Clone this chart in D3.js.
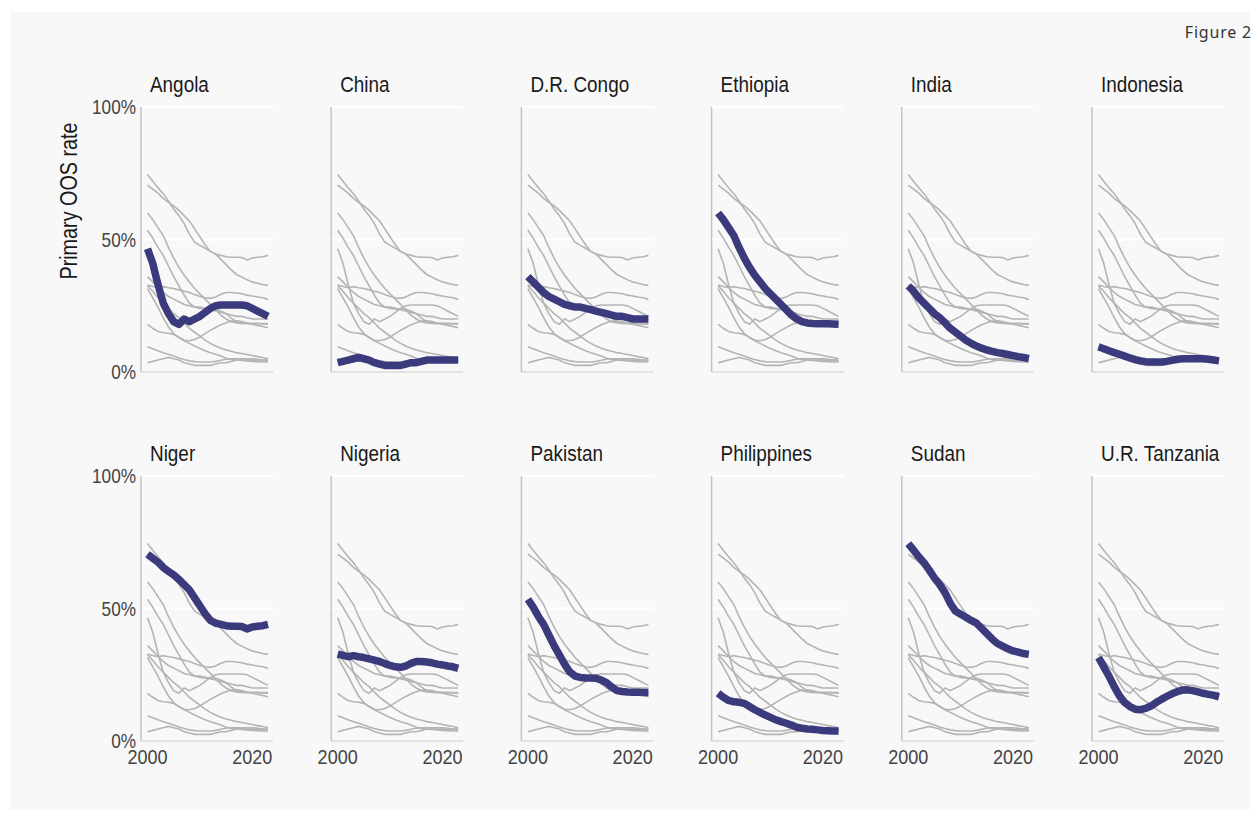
<!DOCTYPE html>
<html>
<head>
<meta charset="utf-8">
<script src="https://cdnjs.cloudflare.com/ajax/libs/d3/7.8.5/d3.min.js"></script>
<style>
  body { margin: 0; background: #fff; }
  .narrow { font-family: "Liberation Sans Narrow", "Arial Narrow", "Liberation Sans", sans-serif; }
</style>
</head>
<body>
<div id="chart"></div>
<script>
// years shown in every panel
var years = d3.range(2000, 2024);

// primary out-of-school rate (%), 2000-2023
var angola      = [46.5, 41, 33, 26, 22, 19, 18, 20, 19, 20, 21, 22.5, 24, 25, 25.3, 25.3, 25.3, 25.3, 25.3, 25, 24, 23, 22, 21];
var china       = [3.5, 4, 4.5, 5, 5.5, 5, 4.5, 3.5, 3, 2.5, 2.5, 2.5, 2.5, 3, 3.5, 3.5, 4, 4.5, 4.5, 4.5, 4.5, 4.5, 4.5, 4.5];
var drCongo     = [36, 34, 32, 30, 28.5, 27.5, 26.5, 25.5, 25, 24.5, 24.5, 24, 23.5, 23, 22.5, 22, 21.5, 21, 21, 20.5, 20, 20, 20, 20];
var ethiopia    = [60, 57.5, 54.5, 51.5, 47, 43, 39.5, 36.5, 34, 31.5, 29.5, 27.5, 25.5, 23.5, 21.5, 20, 19, 18.5, 18.3, 18.2, 18.2, 18.2, 18.1, 18];
var india       = [32.5, 30.5, 28, 26, 24, 22, 20.5, 18.5, 16.5, 15, 13.5, 12, 10.8, 9.8, 9, 8.3, 7.8, 7.3, 7, 6.6, 6.2, 5.8, 5.5, 5];
var indonesia   = [9.5, 8.8, 8, 7.3, 6.7, 6, 5.3, 4.7, 4.2, 3.9, 3.8, 3.8, 3.8, 4, 4.4, 4.8, 5, 5, 5, 5, 5, 4.8, 4.5, 4.2];
var niger       = [70.5, 69, 67.5, 65.5, 64, 62.7, 61, 59, 57, 54, 51, 48, 45.5, 44.5, 44, 43.5, 43.3, 43.3, 43.2, 42.3, 43, 43.3, 43.5, 44];
var nigeria     = [32.8, 32.3, 31.8, 32.2, 31.8, 31.5, 31, 30.5, 30, 29.2, 28.5, 28, 27.8, 28.3, 29.3, 30, 30, 29.8, 29.5, 29, 28.7, 28.3, 28, 27.4];
var pakistan    = [53.5, 50.5, 47, 44, 40, 36, 32.5, 29, 26, 24.5, 24, 23.8, 23.8, 23.7, 23, 22, 20.3, 19, 18.7, 18.5, 18.4, 18.4, 18.3, 18.3];
var philippines = [18, 16.5, 15.3, 14.8, 14.6, 14.2, 13, 11.8, 10.8, 9.8, 8.9, 8, 7.3, 6.7, 6, 5.2, 4.8, 4.5, 4.4, 4.2, 4, 3.9, 3.8, 3.8];
var sudan       = [74.5, 72, 69.5, 67.3, 64.5, 61.5, 59, 56, 52, 49, 47.8, 46.7, 45.5, 44.5, 42.5, 40.5, 38.5, 36.8, 35.8, 34.8, 34, 33.5, 33, 32.7];
var tanzania    = [31.5, 28, 24.5, 20.5, 17, 14.5, 13, 12, 11.8, 12.3, 13.2, 14.5, 15.7, 16.8, 17.8, 18.6, 19.2, 19.3, 19, 18.5, 18, 17.6, 17.2, 16.7];

var countries = ["Angola", "China", "D.R. Congo", "Ethiopia", "India", "Indonesia",
                 "Niger", "Nigeria", "Pakistan", "Philippines", "Sudan", "U.R. Tanzania"];
var seriesList = [angola, china, drCongo, ethiopia, india, indonesia,
                  niger, nigeria, pakistan, philippines, sudan, tanzania];

var yTicks = [0, 50, 100];
var xTicks = [2000, 2020];

// no narrow font installed, so squeeze the regular one horizontally
var squeeze = 0.86;

// page
var width = 1258, height = 813;
var svg = d3.select("#chart").append("svg")
  .attr("width", width)
  .attr("height", height);

svg.append("rect")
  .attr("x", 10).attr("y", 12)
  .attr("width", 1240).attr("height", 798)
  .attr("fill", "#f8f8f8");

svg.append("text")
  .attr("x", 1252).attr("y", 38)
  .attr("text-anchor", "end")
  .style("font-family", "'Noto Sans', sans-serif")
  .style("font-size", "16px")
  .style("letter-spacing", "0.8px")
  .attr("fill", "#333")
  .text("Figure 2");

// panel geometry
var panelW = 132, panelH = 265;
var colX = d3.scaleLinear().domain([0, 5]).range([141, 1092]);
var rowY = [107, 476];

var x = d3.scaleLinear().domain([2000, 2023]).range([6.5, 127]);
var y = d3.scaleLinear().domain([0, 100]).range([panelH, 0]);

var line = d3.line()
  .x((d, i) => x(years[i]))
  .y(d => y(d));

countries.forEach(function(name, k) {
  var col = k % 6, row = Math.floor(k / 6);
  var g = svg.append("g")
    .attr("transform", `translate(${colX(col)}, ${rowY[row]})`);

  // white gridlines at 50% and 100%
  g.selectAll(".grid")
    .data([50, 100])
    .enter().append("line")
    .attr("x1", 0).attr("x2", panelW)
    .attr("y1", d => y(d)).attr("y2", d => y(d))
    .attr("stroke", "#fff")
    .attr("stroke-width", 2);

  // bottom and left axis lines
  g.append("line")
    .attr("x1", 0).attr("x2", panelW)
    .attr("y1", y(0)).attr("y2", y(0))
    .attr("stroke", "#dcdcdc").attr("stroke-width", 1.5);
  g.append("line")
    .attr("x1", 0).attr("x2", 0)
    .attr("y1", y(0)).attr("y2", y(100))
    .attr("stroke", "#c4c4c4").attr("stroke-width", 1.5);

  // every country in grey
  g.selectAll(".bg")
    .data(seriesList)
    .enter().append("path")
    .attr("d", line)
    .attr("fill", "none")
    .attr("stroke", "#b4b4b4")
    .attr("stroke-width", 1.6);

  // the panel's own country
  g.append("path")
    .datum(seriesList[k])
    .attr("d", line)
    .attr("fill", "none")
    .attr("stroke", "#3b3a7c")
    .attr("stroke-width", 7.5)
    .attr("stroke-linejoin", "round");

  g.append("text")
    .attr("class", "narrow")
    .attr("transform", `translate(9, -15) scale(${squeeze}, 1)`)
    .style("font-size", "22px")
    .attr("fill", "#1a1a1a")
    .text(name);

  if (col === 0) {
    g.selectAll(".ytick")
      .data(yTicks)
      .enter().append("text")
      .attr("class", "narrow")
      .attr("transform", d => `translate(-5, ${y(d)}) scale(${squeeze}, 1)`)
      .attr("dy", "0.35em")
      .attr("text-anchor", "end")
      .style("font-size", "20px")
      .attr("fill", "#444")
      .text(d => d + "%");
  }

  if (row === 1) {
    g.selectAll(".xtick")
      .data(xTicks)
      .enter().append("text")
      .attr("class", "narrow")
      .attr("transform", d => `translate(${x(d)}, ${panelH + 23}) scale(${squeeze}, 1)`)
      .attr("text-anchor", "middle")
      .style("font-size", "21px")
      .attr("fill", "#444")
      .text(d => d);
  }
});

// y axis title
svg.append("text")
  .attr("class", "narrow")
  .attr("transform", `translate(77, 201) rotate(-90) scale(${squeeze}, 1)`)
  .attr("text-anchor", "middle")
  .style("font-size", "23px")
  .attr("fill", "#1a1a1a")
  .text("Primary OOS rate");
</script>
</body>
</html>
